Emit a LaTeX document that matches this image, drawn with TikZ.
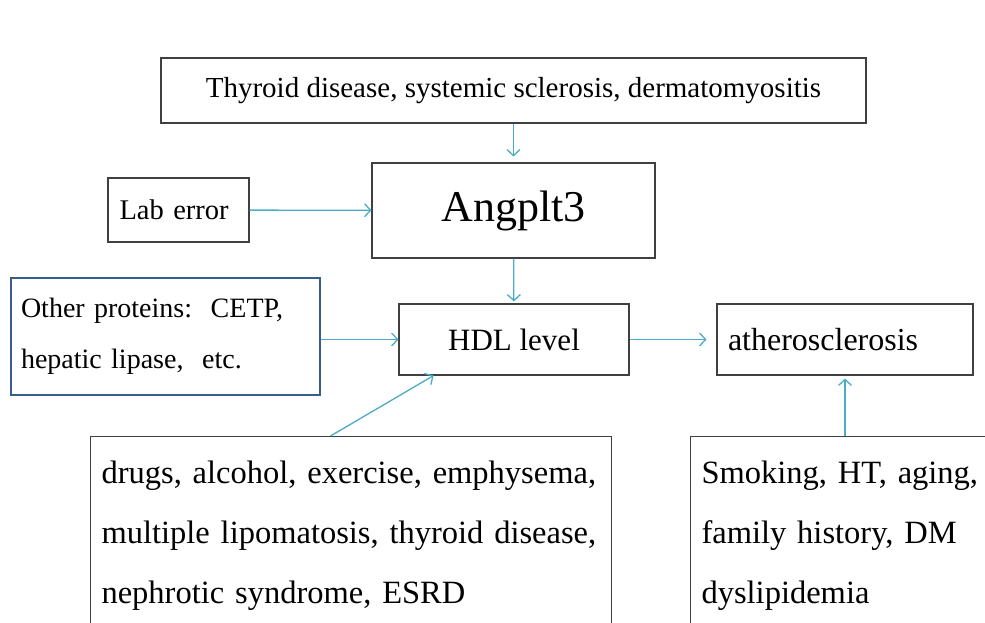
\documentclass[tikz,border=0pt]{standalone}
\usepackage{fontspec}
\setmainfont{Liberation Serif}
\usetikzlibrary{arrows.meta,calc}
\definecolor{arrowblue}{RGB}{75,172,198}
\definecolor{boxgray}{RGB}{64,64,64}
\definecolor{boxblue}{RGB}{56,93,138}
\newcommand{\fsz}[2]{\fontsize{#1}{#2}\selectfont}
\begin{document}
\begin{tikzpicture}[x=1pt, y=-1pt,
    box/.style={draw=boxgray, line width=1.1pt, inner sep=0pt},
    arr/.style={draw=arrowblue, line width=1.3pt, -{Straight Barb[length=6pt,width=13pt]}}]
      \path[use as bounding box, clip] (0, 0) rectangle (985, 623);
      \node[box, minimum width=705pt, minimum height=65pt, font=\fsz{29}{34}] (dis) at (513.5, 90.5) {Thyroid disease, systemic sclerosis, dermatomyositis};
      \node[box, minimum height=64pt, text width=118pt, inner xsep=11.5pt, align=left, font=\fsz{28.5}{33}] (lab) at (178.5, 210) {Lab error};
      \node[box, minimum width=283pt, minimum height=95pt, font=\fsz{44}{52}] (angplt) at (513.5, 210.5) {Angplt3};
      \node[box, draw=boxblue, minimum height=117pt, text width=289pt, inner xsep=10pt, align=left, font=\fsz{28}{51}] (other) at (165.5, 336.5) {\mbox{Other proteins:\ \ CETP,}\\\mbox{hepatic lipase,\ \ etc.}};
      \node[box, minimum width=230pt, minimum height=71pt, font=\fsz{31}{37}] (hdl) at (514, 339.5) {HDL level};
      \node[box, minimum height=71pt, text width=234pt, inner xsep=11pt, align=left, font=\fsz{32}{38}] (athero) at (845, 339.5) {atherosclerosis};
      \node[box, anchor=north west, text width=499pt, inner xsep=11pt, inner ysep=24pt, align=left, font=\fsz{32.5}{60}] (drugs) at (90, 436) {\mbox{drugs, alcohol, exercise, emphysema,}\\\mbox{multiple lipomatosis, thyroid disease,}\\\mbox{nephrotic syndrome, ESRD}};
      \node[box, anchor=north west, text width=320pt, inner xsep=11pt, inner ysep=24pt, align=left, font=\fsz{32.5}{60}] (smoke) at (690, 436) {\mbox{Smoking, HT, aging,}\\\mbox{family history, DM}\\\mbox{dyslipidemia}};
      % arrows
      \draw[arr, shorten >=6pt] (dis) -- (angplt);
      \draw[arr] (lab) -- (angplt);
      \draw[arr, shorten >=2pt] (angplt) -- (hdl);
      \draw[arr] (other.east |- hdl.west) -- (hdl.west);
      \draw[arr] ($(drugs.north west)!0.4607!(drugs.north east)$) -- ($(hdl.south west)!0.152!(hdl.south east)$);
      \draw[arr, shorten >=10pt] (hdl) -- (athero);
      \draw[arr, shorten >=3pt] (smoke.north -| athero.south) -- (athero.south);
    \end{tikzpicture}
\end{document}
